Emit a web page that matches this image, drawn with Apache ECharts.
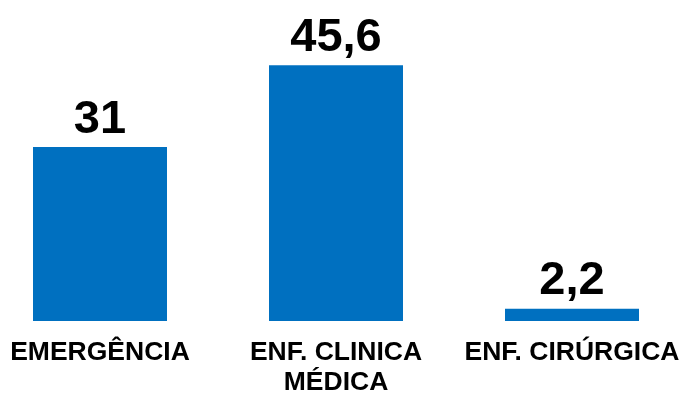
<!DOCTYPE html>
<html>
<head>
<meta charset="utf-8">
<script src="https://cdn.jsdelivr.net/npm/echarts@6/dist/echarts.min.js"></script>
<style>
  html, body { margin: 0; padding: 0; background: #fff; }
  #chart { width: 683px; height: 394px; }
</style>
</head>
<body>
<div id="chart"></div>
<script>
// dados do gráfico
var categorias = ["EMERGÊNCIA", "ENF. CLINICA\nMÉDICA", "ENF. CIRÚRGICA"];
var valores = [31, 45.6, 2.2];

var chart = echarts.init(document.getElementById("chart"));

var option = {
  animation: false,
  grid: {
    left: -18,
    width: 708,
    top: 40.5,
    bottom: 73,
    outerBoundsMode: "none",
    containLabel: false
  },
  xAxis: {
    type: "category",
    data: categorias,
    axisLine: { show: false },
    axisTick: { show: false },
    axisLabel: {
      interval: 0,
      margin: 17,
      color: "#000",
      fontFamily: "Liberation Sans, Arial",
      fontWeight: "bold",
      fontSize: 26.5,
      lineHeight: 30
    }
  },
  yAxis: {
    type: "value",
    min: 0,
    max: 50,
    show: false,
    splitLine: { show: false }
  },
  series: [
    {
      type: "bar",
      barWidth: 134,
      data: valores,
      itemStyle: { color: "#0070C0" },
      label: {
        show: true,
        position: "top",
        distance: 4,
        color: "#000",
        fontFamily: "Liberation Sans, Arial",
        fontWeight: "bold",
        fontSize: 47,
        formatter: function (p) {
          return String(p.value).replace(".", ",");
        }
      }
    }
  ]
};
chart.setOption(option);
</script>
</body>
</html>
